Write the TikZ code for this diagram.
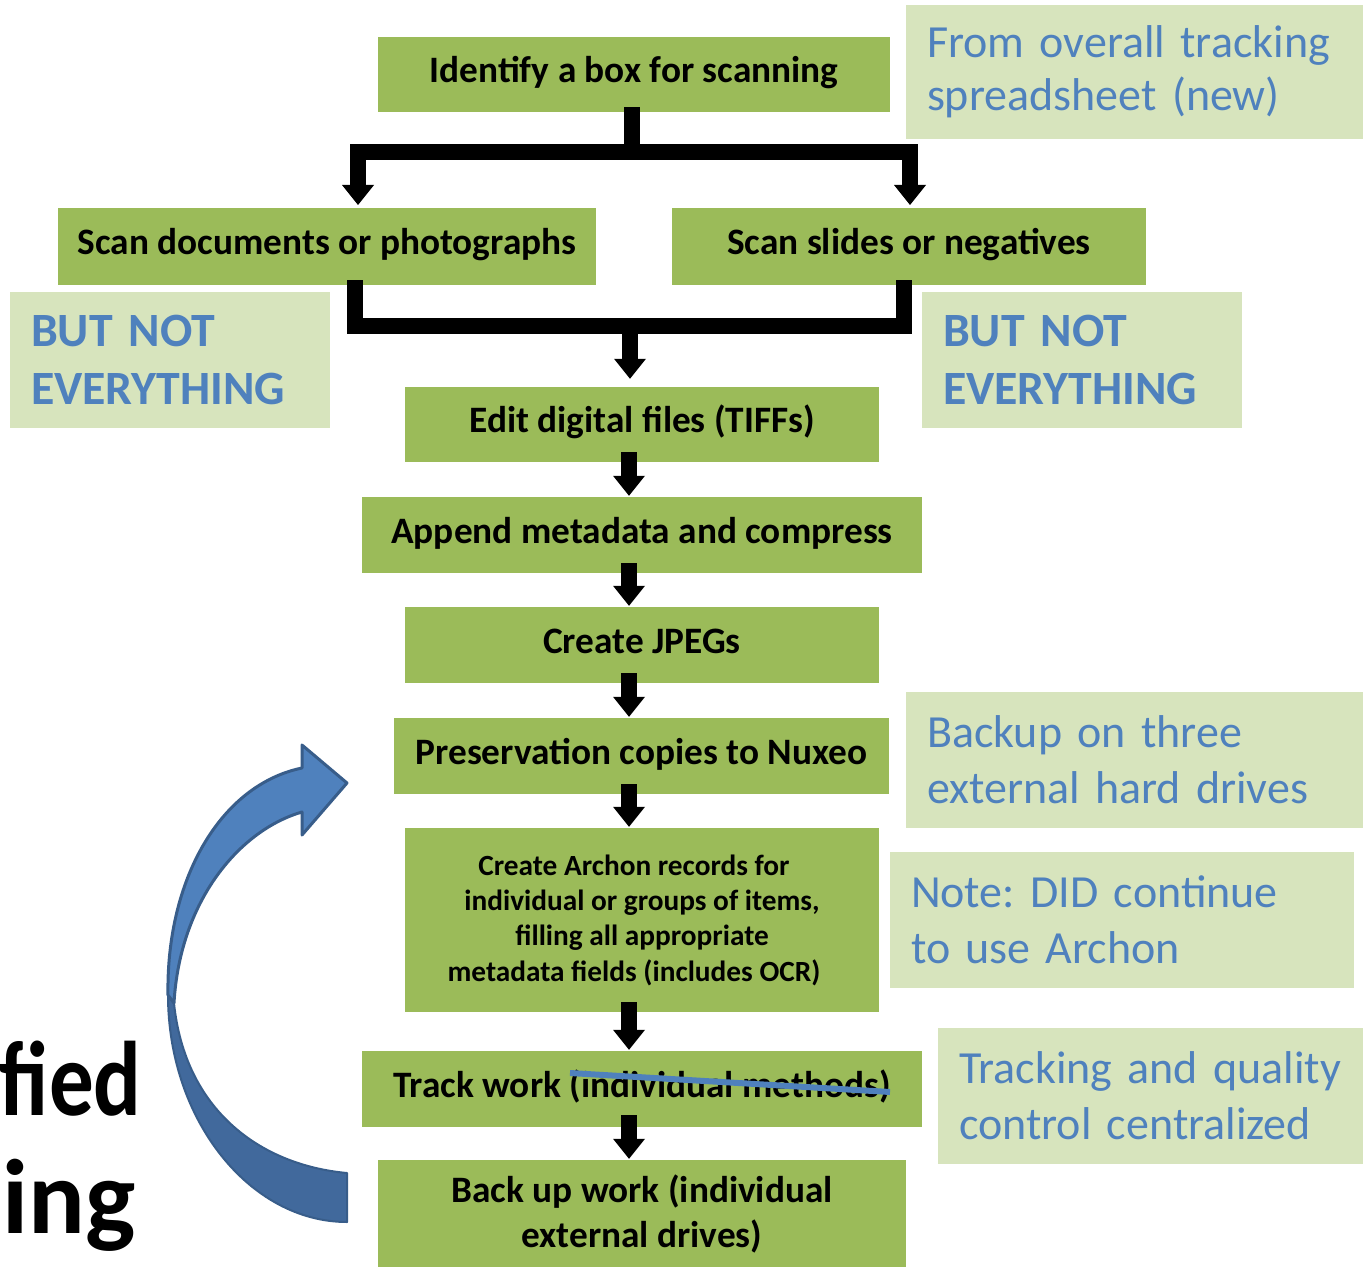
\documentclass[tikz,border=0pt]{standalone}
\usepackage{fontspec}
\setmainfont{Carlito}
\usetikzlibrary{arrows.meta,calc}
\definecolor{gfill}{HTML}{9BBB59}
\definecolor{lfill}{HTML}{D7E4BD}
\definecolor{tblue}{HTML}{4F81BD}
\definecolor{adark}{HTML}{385D8A}
\definecolor{alow}{HTML}{41699C}
\frenchspacing
\begin{document}
\begin{tikzpicture}[x=1pt,y=-1pt,
  gbox/.style={fill=gfill, inner sep=0pt, align=center, font=\bfseries\fontsize{37.3}{45}\selectfont},
  gone/.style={gbox, text height=24pt, text depth=8pt},
  lbox/.style={fill=lfill, inner xsep=21pt, inner ysep=0pt, align=left, text=tblue},
  lreg/.style={lbox, font=\fontsize{46}{56}\selectfont},
  lbold/.style={lbox, font=\bfseries\fontsize{47.8}{58}\selectfont},
  flow/.style={line width=16pt, line join=miter, -{Triangle[width=32pt,length=20pt,line width=0pt]}},
  flowline/.style={line width=16pt, line join=miter},
  bigtxt/.style={font=\bfseries\fontsize{106}{110}\selectfont, anchor=base east, inner sep=0pt}
]
\useasboundingbox (0,0) rectangle (1363,1268);
\clip (0,0) rectangle (1363,1268);

% main green boxes
\node[gone, minimum width=512pt, minimum height=75pt] (n1) at (634,74.5) {Identify a box for scanning};
\node[gone, minimum width=538pt, minimum height=77pt] (n2) at (327,246.5) {Scan documents or photographs};
\node[gone, minimum width=474pt, minimum height=77pt] (n3) at (909,246.5) {Scan slides or negatives};
\node[gone, minimum width=474pt, minimum height=75pt] (n4) at (642,424.5) {Edit digital files (TIFFs)};
\node[gone, minimum width=560pt, minimum height=76pt] (n5) at (642,535) {Append metadata and compress};
\node[gone, minimum width=474pt, minimum height=76pt] (n6) at (642,645) {Create JPEGs};
\node[gone, minimum width=495pt, minimum height=76pt] (n7) at (641.5,756) {Preservation copies to Nuxeo};
\node[gbox, minimum width=474pt, minimum height=184pt, font=\bfseries\fontsize{29.3}{35.3}\selectfont] (n8) at (642,920)
  {Create Archon records for\hspace*{16pt}\\individual or groups of items,\hspace*{16pt}\\filling all appropriate\hspace*{16pt}\\metadata fields (includes OCR)\hspace*{16pt}};
\node[gone, minimum width=560pt, minimum height=76pt] (n9) at (642,1089) {Track work (individual methods)};
\node[gbox, minimum width=528pt, minimum height=107pt] (n10) at (642,1213.5) {Back up work (individual\\external drives)};

% light side boxes
\node[lreg, text width=415pt, minimum height=134pt, font=\fontsize{46}{53}\selectfont] (l1) at (1134.5,72) {From overall tracking\\spreadsheet (new)};
\node[lbold, text width=278pt, minimum height=136pt] (l2) at (170,360) {BUT NOT\\EVERYTHING};
\node[lbold, text width=278pt, minimum height=136pt] (l3) at (1082,360) {BUT NOT\\EVERYTHING};
\node[lreg, text width=415pt, minimum height=136pt] (l4) at (1134.5,760) {Backup on three\\external hard drives};
\node[lreg, text width=422pt, minimum height=136pt] (l5) at (1122,920) {Note: DID continue\\to use Archon};
\node[lreg, text width=383pt, minimum height=136pt] (l6) at (1150.5,1096) {Tracking and quality\\control centralized};

% strike-through
\draw[tblue, line width=6pt] ([xshift=-72pt,yshift=16pt]n9.center) -- ([xshift=248pt,yshift=-3pt]n9.center);

% branching arrows
\coordinate (s1) at ([xshift=-2pt,yshift=5pt]n1.south);
\coordinate (bL) at (358,152.5);
\coordinate (bR) at (910,152.5);
\coordinate (tL) at (358,205);
\coordinate (tR) at (910,205);
\draw[flow] (s1) |- (bL) -- (tL);
\draw[flow] (s1) |- (bR) -- (tR);

% merging arrows
\coordinate (mL) at ([xshift=28pt,yshift=5pt]n2.south);
\coordinate (mR) at ([xshift=-5pt,yshift=5pt]n3.south);
\coordinate (jn) at (630,326);
\draw[flowline] (mL) |- (jn) -| (mR);
\draw[flow] ([yshift=8pt]jn) -- ([xshift=-12pt,yshift=8pt]n4.north);

% chain arrows
\draw[flow] ([xshift=-13pt,yshift=10pt]n4.south) -- ([xshift=-13pt,yshift=1pt]n5.north);
\draw[flow] ([xshift=-13pt,yshift=10pt]n5.south) -- ([xshift=-13pt,yshift=1pt]n6.north);
\draw[flow] ([xshift=-13pt,yshift=10pt]n6.south) -- ([xshift=-12.5pt,yshift=1pt]n7.north);
\draw[flow] ([xshift=-12.5pt,yshift=10pt]n7.south) -- ([xshift=-13pt,yshift=1pt]n8.north);
\draw[flow] ([xshift=-13pt,yshift=10pt]n8.south) -- ([xshift=-13pt,yshift=1pt]n9.north);
\draw[flow] ([xshift=-13pt,yshift=12pt]n9.south) -- ([xshift=-13pt,yshift=1pt]n10.north);

% curved blue arrow
\filldraw[fill=alow, draw=adark, line width=2pt, line join=round]
  (168,995) .. controls (168,1120) and (250,1222) .. (347,1222) -- (347,1173)
  .. controls (260,1165) and (185,1110) .. (174,1003) -- cycle;
\filldraw[fill=tblue, draw=adark, line width=3pt, line join=round]
  (168,995) .. controls (166,880) and (220,785) .. (302,768) -- (302,745) -- (347,783)
  -- (302,835) -- (302,812) .. controls (240,830) and (180,900) .. (174,1003) -- cycle;

% large partial text at left
\node[bigtxt] (bt1) at (142,1115) {\scalebox{0.84}[1]{fied}};
\node[bigtxt] (bt2) at (136,1233) {ing};
\end{tikzpicture}
\end{document}
